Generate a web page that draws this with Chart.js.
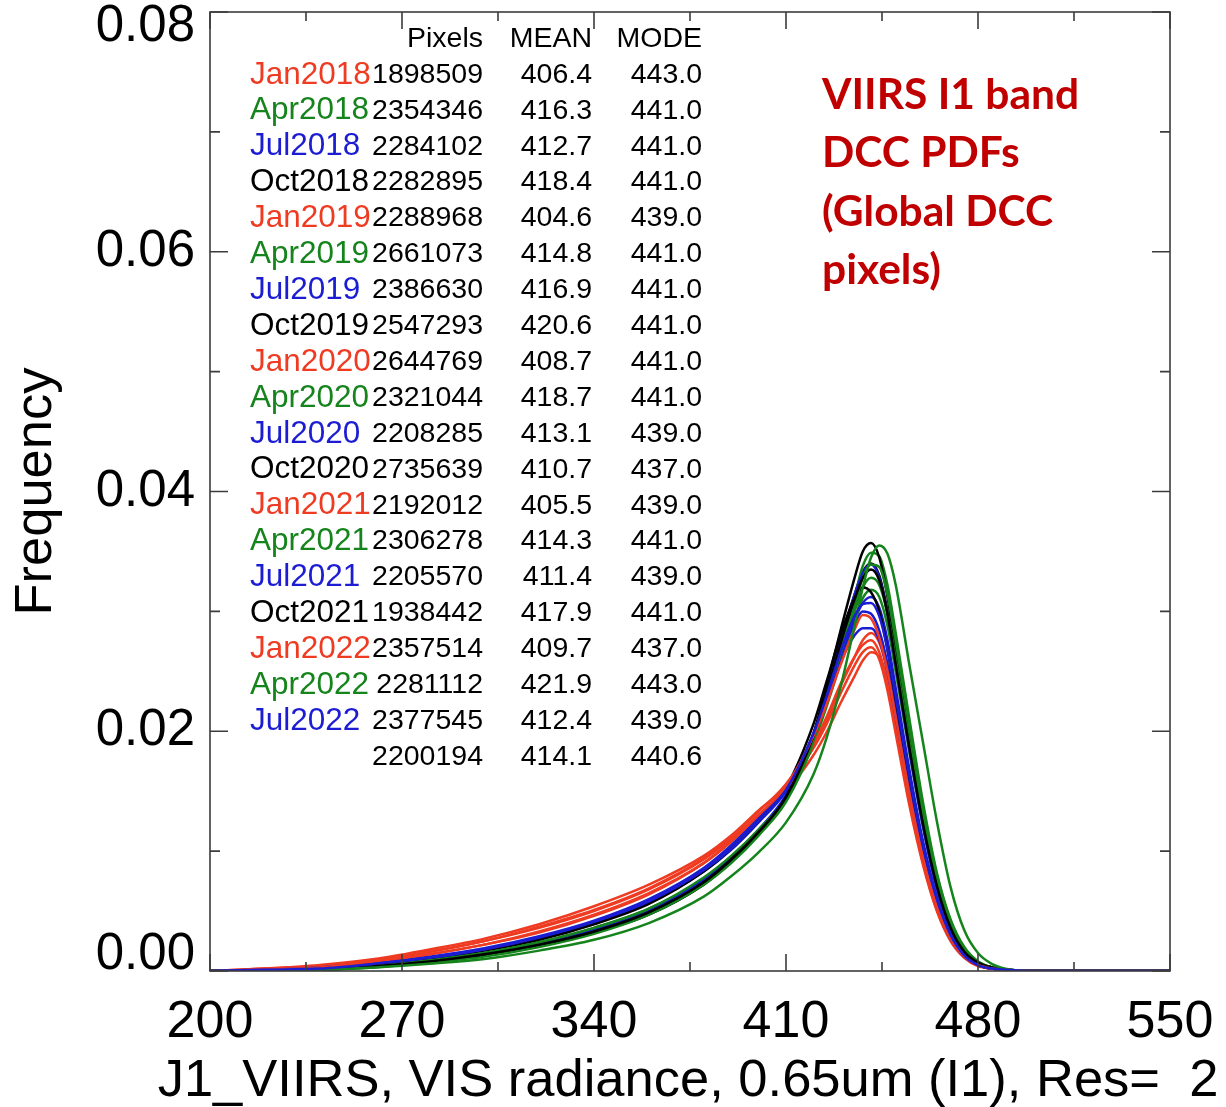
<!DOCTYPE html>
<html lang="en">
<head>
  <meta charset="UTF-8">
  <title>VIIRS I1 band DCC PDFs</title>
  <script src="https://cdn.jsdelivr.net/npm/chart.js"></script>
  <style>
    body { margin: 0; background: #fff; }
  </style>
</head>
<body>
  <canvas id="pdfChart" width="1226" height="1107"></canvas>

  <script>
    // radiance bins (x) shared by every PDF
    const radiance = [200, 220, 240, 260, 280, 300, 320, 340, 360, 380, 390, 400, 410, 420, 425, 430,
                      435, 438, 441, 444, 447, 450, 455, 460, 465, 470, 475, 480, 485, 490, 500, 550];

    const months = ["Jan2018", "Apr2018", "Jul2018", "Oct2018", "Jan2019", "Apr2019", "Jul2019", "Oct2019",
                    "Jan2020", "Apr2020", "Jul2020", "Oct2020", "Jan2021", "Apr2021", "Jul2021", "Oct2021",
                    "Jan2022", "Apr2022", "Jul2022"];
    const pixelCounts = ["1898509", "2354346", "2284102", "2282895", "2288968", "2661073", "2386630", "2547293",
                         "2644769", "2321044", "2208285", "2735639", "2192012", "2306278", "2205570", "1938442",
                         "2357514", "2281112", "2377545"];
    const meanRad = ["406.4", "416.3", "412.7", "418.4", "404.6", "414.8", "416.9", "420.6", "408.7", "418.7",
                     "413.1", "410.7", "405.5", "414.3", "411.4", "417.9", "409.7", "421.9", "412.4"];
    const modeRad = ["443.0", "441.0", "441.0", "441.0", "439.0", "441.0", "441.0", "441.0", "441.0", "441.0",
                     "439.0", "437.0", "439.0", "441.0", "439.0", "441.0", "437.0", "443.0", "439.0"];
    const totalRow = ["2200194", "414.1", "440.6"];

    const xTitle = "J1_VIIRS, VIS radiance, 0.65um (I1), Res=  2";
    const caption = ["VIIRS I1 band", "DCC PDFs", "(Global DCC", "pixels)"];

    const seasonColors = { Jan: "#ee3b22", Apr: "#16841c", Jul: "#1c1cd2", Oct: "#000000" };

    const freqJan2018 = [0, 0.0001, 0.0004, 0.0009, 0.0016, 0.0025, 0.0036, 0.0050, 0.0068, 0.0093, 0.0110, 0.0130, 0.0150, 0.0180, 0.0200, 0.0224, 0.0246, 0.0259, 0.0266, 0.0262, 0.0244, 0.0212, 0.0152, 0.0099, 0.0057, 0.0029, 0.0013, 0.0005, 0.0002, 0.0001, 0, 0];
    const freqApr2018 = [0, 0, 0.0001, 0.0004, 0.0008, 0.0014, 0.0022, 0.0034, 0.0050, 0.0076, 0.0095, 0.0117, 0.0144, 0.0190, 0.0222, 0.0258, 0.0292, 0.0311, 0.0318, 0.0312, 0.0288, 0.0250, 0.0182, 0.0120, 0.0069, 0.0035, 0.0016, 0.0006, 0.0002, 0.0001, 0, 0];
    const freqJul2018 = [0, 0.0001, 0.0002, 0.0006, 0.0011, 0.0018, 0.0027, 0.0040, 0.0057, 0.0083, 0.0101, 0.0124, 0.0150, 0.0196, 0.0228, 0.0262, 0.0293, 0.0307, 0.0312, 0.0303, 0.0276, 0.0236, 0.0168, 0.0108, 0.0062, 0.0031, 0.0014, 0.0006, 0.0002, 0.0001, 0, 0];
    const freqOct2018 = [0, 0, 0.0001, 0.0004, 0.0008, 0.0013, 0.0021, 0.0032, 0.0047, 0.0072, 0.0091, 0.0114, 0.0143, 0.0195, 0.0234, 0.0276, 0.0314, 0.0333, 0.0340, 0.0330, 0.0300, 0.0258, 0.0188, 0.0124, 0.0072, 0.0037, 0.0017, 0.0007, 0.0003, 0.0001, 0, 0];
    const freqJan2019 = [0, 0.0002, 0.0005, 0.0010, 0.0018, 0.0027, 0.0039, 0.0054, 0.0072, 0.0096, 0.0113, 0.0134, 0.0154, 0.0186, 0.0207, 0.0232, 0.0255, 0.0266, 0.0270, 0.0260, 0.0234, 0.0198, 0.0138, 0.0088, 0.0050, 0.0025, 0.0011, 0.0004, 0.0002, 0.0001, 0, 0];
    const freqApr2019 = [0, 0, 0.0001, 0.0004, 0.0009, 0.0015, 0.0024, 0.0036, 0.0052, 0.0077, 0.0095, 0.0117, 0.0143, 0.0192, 0.0228, 0.0270, 0.0312, 0.0338, 0.0349, 0.0346, 0.0322, 0.0282, 0.0210, 0.0140, 0.0082, 0.0043, 0.0020, 0.0008, 0.0003, 0.0001, 0, 0];
    const freqJul2019 = [0, 0, 0.0001, 0.0004, 0.0008, 0.0014, 0.0022, 0.0034, 0.0050, 0.0076, 0.0095, 0.0118, 0.0147, 0.0198, 0.0235, 0.0276, 0.0314, 0.0332, 0.0339, 0.0328, 0.0298, 0.0256, 0.0184, 0.0120, 0.0069, 0.0035, 0.0016, 0.0006, 0.0002, 0.0001, 0, 0];
    const freqOct2019 = [0, 0, 0.0001, 0.0004, 0.0008, 0.0013, 0.0021, 0.0032, 0.0048, 0.0074, 0.0093, 0.0116, 0.0145, 0.0198, 0.0240, 0.0285, 0.0328, 0.0350, 0.0357, 0.0345, 0.0312, 0.0268, 0.0195, 0.0128, 0.0074, 0.0038, 0.0017, 0.0007, 0.0003, 0.0001, 0, 0];
    const freqJan2020 = [0, 0.0001, 0.0003, 0.0008, 0.0014, 0.0022, 0.0032, 0.0046, 0.0064, 0.0090, 0.0108, 0.0130, 0.0152, 0.0187, 0.0210, 0.0238, 0.0262, 0.0276, 0.0282, 0.0274, 0.0250, 0.0215, 0.0152, 0.0098, 0.0056, 0.0028, 0.0013, 0.0005, 0.0002, 0.0001, 0, 0];
    const freqApr2020 = [0, 0, 0.0001, 0.0003, 0.0007, 0.0012, 0.0020, 0.0031, 0.0047, 0.0072, 0.0090, 0.0113, 0.0141, 0.0190, 0.0225, 0.0264, 0.0300, 0.0320, 0.0328, 0.0322, 0.0298, 0.0260, 0.0192, 0.0128, 0.0075, 0.0039, 0.0018, 0.0007, 0.0003, 0.0001, 0, 0];
    const freqJul2020 = [0, 0.0001, 0.0002, 0.0006, 0.0011, 0.0018, 0.0027, 0.0040, 0.0058, 0.0084, 0.0103, 0.0126, 0.0152, 0.0198, 0.0230, 0.0264, 0.0290, 0.0300, 0.0298, 0.0284, 0.0256, 0.0216, 0.0152, 0.0097, 0.0055, 0.0028, 0.0012, 0.0005, 0.0002, 0.0001, 0, 0];
    const freqOct2020 = [0, 0.0001, 0.0002, 0.0005, 0.0010, 0.0017, 0.0026, 0.0039, 0.0056, 0.0083, 0.0102, 0.0125, 0.0153, 0.0206, 0.0243, 0.0281, 0.0311, 0.0320, 0.0316, 0.0300, 0.0268, 0.0226, 0.0160, 0.0102, 0.0058, 0.0029, 0.0013, 0.0005, 0.0002, 0.0001, 0, 0];
    const freqJan2021 = [0, 0.0002, 0.0004, 0.0009, 0.0016, 0.0025, 0.0037, 0.0051, 0.0069, 0.0094, 0.0112, 0.0133, 0.0156, 0.0190, 0.0213, 0.0240, 0.0262, 0.0272, 0.0276, 0.0266, 0.0240, 0.0203, 0.0142, 0.0090, 0.0051, 0.0026, 0.0012, 0.0005, 0.0002, 0.0001, 0, 0];
    const freqApr2021 = [0, 0, 0.0001, 0.0004, 0.0009, 0.0015, 0.0024, 0.0036, 0.0052, 0.0078, 0.0096, 0.0118, 0.0144, 0.0192, 0.0227, 0.0266, 0.0304, 0.0328, 0.0339, 0.0337, 0.0314, 0.0275, 0.0204, 0.0136, 0.0080, 0.0042, 0.0019, 0.0008, 0.0003, 0.0001, 0, 0];
    const freqJul2021 = [0, 0.0001, 0.0003, 0.0007, 0.0012, 0.0019, 0.0029, 0.0042, 0.0060, 0.0086, 0.0105, 0.0128, 0.0153, 0.0196, 0.0226, 0.0258, 0.0280, 0.0286, 0.0286, 0.0276, 0.0250, 0.0212, 0.0150, 0.0096, 0.0055, 0.0027, 0.0012, 0.0005, 0.0002, 0.0001, 0, 0];
    const freqOct2021 = [0, 0, 0.0001, 0.0004, 0.0008, 0.0014, 0.0022, 0.0033, 0.0049, 0.0074, 0.0093, 0.0116, 0.0145, 0.0196, 0.0233, 0.0274, 0.0310, 0.0328, 0.0335, 0.0326, 0.0298, 0.0256, 0.0186, 0.0122, 0.0071, 0.0036, 0.0016, 0.0007, 0.0003, 0.0001, 0, 0];
    const freqJan2022 = [0, 0.0001, 0.0003, 0.0008, 0.0014, 0.0022, 0.0033, 0.0047, 0.0065, 0.0090, 0.0108, 0.0130, 0.0154, 0.0196, 0.0224, 0.0256, 0.0285, 0.0297, 0.0294, 0.0278, 0.0250, 0.0212, 0.0148, 0.0094, 0.0054, 0.0027, 0.0012, 0.0005, 0.0002, 0.0001, 0, 0];
    const freqApr2022 = [0, 0, 0.0001, 0.0003, 0.0006, 0.0010, 0.0017, 0.0026, 0.0040, 0.0062, 0.0079, 0.0099, 0.0124, 0.0164, 0.0196, 0.0238, 0.0288, 0.0320, 0.0345, 0.0355, 0.0348, 0.0322, 0.0255, 0.0190, 0.0125, 0.0070, 0.0034, 0.0015, 0.0006, 0.0002, 0, 0];
    const freqJul2022 = [0, 0.0001, 0.0002, 0.0006, 0.0011, 0.0018, 0.0028, 0.0041, 0.0058, 0.0084, 0.0102, 0.0125, 0.0151, 0.0198, 0.0231, 0.0267, 0.0296, 0.0306, 0.0307, 0.0296, 0.0268, 0.0228, 0.0162, 0.0104, 0.0060, 0.0030, 0.0013, 0.0005, 0.0002, 0.0001, 0, 0];

    const freqSeries = [freqJan2018, freqApr2018, freqJul2018, freqOct2018, freqJan2019, freqApr2019, freqJul2019,
                        freqOct2019, freqJan2020, freqApr2020, freqJul2020, freqOct2020, freqJan2021, freqApr2021,
                        freqJul2021, freqOct2021, freqJan2022, freqApr2022, freqJul2022];

    const FONT = "'Liberation Sans', Arial, Helvetica, sans-serif";

    function colorFor(month) {
      return seasonColors[month.slice(0, 3)];
    }

    // IDL puts the end labels of the y axis inside the axis range
    const edgeLabels = {
      id: "edgeLabels",
      beforeDraw(chart) {
        chart.scales.y.getLabelItems().forEach(it => {
          if (it._moved) return;
          if (it.label === "0.08") it.options.translation[1] += 15;
          if (it.label === "0.00") it.options.translation[1] -= 16;
          it._moved = true;
        });
      }
    };

    // IDL style box with inward ticks on all four sides
    const frameTicks = {
      id: "frameTicks",
      afterDatasetsDraw(chart) {
        const { ctx, chartArea: a, scales: { x, y } } = chart;
        ctx.save();
        ctx.strokeStyle = "#3c3c3c";
        ctx.lineWidth = 1.6;
        ctx.strokeRect(a.left, a.top, a.right - a.left, a.bottom - a.top);
        ctx.beginPath();
        x.ticks.forEach(t => {
          const px = x.getPixelForValue(t.value);
          const len = t.label ? 17 : 9;
          ctx.moveTo(px, a.bottom); ctx.lineTo(px, a.bottom - len);
          ctx.moveTo(px, a.top); ctx.lineTo(px, a.top + len);
        });
        y.ticks.forEach(t => {
          const py = y.getPixelForValue(t.value);
          const len = t.label ? 18 : 10;
          ctx.moveTo(a.left, py); ctx.lineTo(a.left + len, py);
          ctx.moveTo(a.right, py); ctx.lineTo(a.right - len, py);
        });
        ctx.stroke();
        ctx.restore();
      }
    };

    // stats table, red caption and the (wider than the plot) x title
    const statsTable = {
      id: "statsTable",
      afterDraw(chart) {
        const { ctx, chartArea: a } = chart;
        const rowH = 35.9;
        const top = a.top + 27;
        const colLabel = a.left + 40, colPix = a.left + 273, colMean = a.left + 382, colMode = a.left + 492;
        const numFont = "28.5px " + FONT, labelFont = "31.5px " + FONT;
        ctx.save();
        ctx.textBaseline = "middle";
        ctx.font = numFont;
        ctx.fillStyle = "#000";
        ctx.textAlign = "right";
        ctx.fillText("Pixels", colPix, top);
        ctx.fillText("MEAN", colMean, top);
        ctx.fillText("MODE", colMode, top);
        months.forEach((m, i) => {
          const yy = top + rowH * (i + 1);
          ctx.font = labelFont;
          ctx.textAlign = "left";
          ctx.fillStyle = colorFor(m);
          ctx.fillText(m, colLabel, yy);
          ctx.font = numFont;
          ctx.textAlign = "right";
          ctx.fillStyle = "#000";
          ctx.fillText(pixelCounts[i], colPix, yy);
          ctx.fillText(meanRad[i], colMean, yy);
          ctx.fillText(modeRad[i], colMode, yy);
        });
        const yLast = top + rowH * (months.length + 1);
        ctx.fillText(totalRow[0], colPix, yLast);
        ctx.fillText(totalRow[1], colMean, yLast);
        ctx.fillText(totalRow[2], colMode, yLast);

        ctx.fillStyle = "#c00000";
        ctx.textAlign = "left";
        ctx.font = "bold 42.5px Lato, 'Open Sans', sans-serif";
        caption.forEach((line, i) => {
          ctx.fillText(line, a.left + 612, a.top + 83 + i * 58.5);
        });

        ctx.fillStyle = "#000";
        ctx.textAlign = "center";
        ctx.textBaseline = "alphabetic";
        ctx.font = "52.5px " + FONT;
        ctx.fillText(xTitle, (a.left + a.right) / 2 - 2, chart.height - 11);
        ctx.restore();
      }
    };

    const datasets = months.map((m, i) => ({
      label: m,
      data: radiance.map((r, k) => ({ x: r, y: freqSeries[i][k] })),
      borderColor: colorFor(m),
      borderWidth: 2.5,
      pointRadius: 0,
      fill: false,
      cubicInterpolationMode: "monotone",
      order: -i
    }));

    new Chart(document.getElementById("pdfChart"), {
      type: "line",
      data: { datasets },
      options: {
        responsive: false,
        animation: false,
        layout: { padding: { top: 12, right: 56, left: 0, bottom: 0 } },
        plugins: { legend: { display: false }, tooltip: { enabled: false } },
        scales: {
          x: {
            type: "linear",
            min: 200,
            max: 550,
            grid: { display: false, drawTicks: false },
            border: { display: false },
            ticks: {
              stepSize: 35,
              autoSkip: false,
              maxRotation: 0,
              padding: 20,
              color: "#000",
              font: { family: FONT, size: 52 },
              callback: v => ((v - 200) % 70 === 0 ? String(v) : "")
            },
            afterFit: s => { s.height = 136; s.paddingLeft = 0; s.paddingRight = 0; }
          },
          y: {
            min: 0,
            max: 0.08,
            grid: { display: false, drawTicks: false },
            border: { display: false },
            ticks: {
              stepSize: 0.01,
              autoSkip: false,
              padding: 15,
              color: "#000",
              font: { family: FONT, size: 51 },
              callback: v => (Math.round(v * 100) % 2 === 0 ? v.toFixed(2) : "")
            },
            title: {
              display: true,
              text: "Frequency",
              color: "#000",
              font: { family: FONT, size: 52.5, lineHeight: 1.2 },
              padding: { top: 5, bottom: 0 }
            },
            afterFit: s => { s.width = 210; s.paddingTop = 0; s.paddingBottom = 0; }
          }
        }
      },
      plugins: [edgeLabels, frameTicks, statsTable]
    });
  </script>
</body>
</html>
